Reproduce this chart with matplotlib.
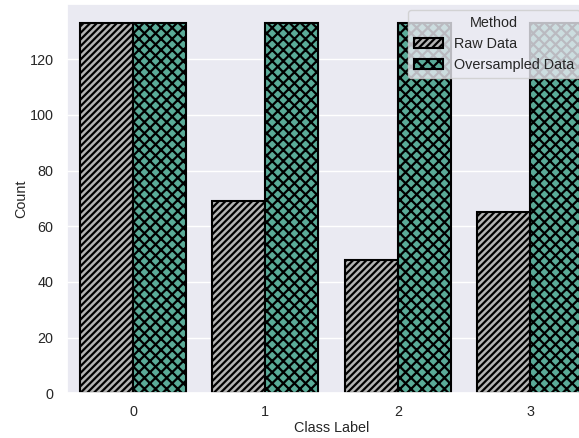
import matplotlib
matplotlib.use("Agg")
import matplotlib.pyplot as plt
import seaborn as sns
import numpy as np

sns.set_theme(style="darkgrid")
plt.rcParams['font.family'] = ['Arial', 'Liberation Sans', 'DejaVu Sans']
plt.rcParams['hatch.linewidth'] = 1.6

classes = ["0", "1", "2", "3"]
raw_counts = [133, 69, 48, 65]
over_counts = [133, 133, 133, 133]
methods = ["Raw Data", "Oversampled Data"]
colors = ["#b4b4b4", "#5aab98"]
hatches = ["/////", "xxx"]

fs = 10.4
fig = plt.figure(figsize=(5.79, 4.38), dpi=100)
ax = fig.add_axes([0.1153, 0.102, 0.915, 0.888])

x = np.arange(len(classes))
w = 0.4
for i, (vals, lab) in enumerate(zip([raw_counts, over_counts], methods)):
    ax.bar(x + (i - 0.5) * w, vals, width=w, color=colors[i], edgecolor="black",
           linewidth=1.5, hatch=hatches[i], label=lab)

ax.set_xlim(-0.5, 3.5)
ax.set_ylim(0, 133 * 1.05)
ax.grid(axis="x", visible=False)
ax.set_xticks(x)
ax.set_xticklabels(classes)
ax.tick_params(labelsize=fs)
ax.tick_params(axis="x", pad=2.5)
ax.set_xlabel("Class Label", fontsize=fs)
ax.set_ylabel("Count", fontsize=fs)
ax.xaxis.set_label_coords(0.5, -0.071)
ax.yaxis.set_label_coords(-0.073, 0.5)
leg = ax.legend(title="Method", loc="upper left", fontsize=fs, title_fontsize=fs,
                bbox_to_anchor=(408 / 579, 1 - 10 / 438), bbox_transform=fig.transFigure,
                borderaxespad=0)
fig.savefig("out.png", dpi=100)
